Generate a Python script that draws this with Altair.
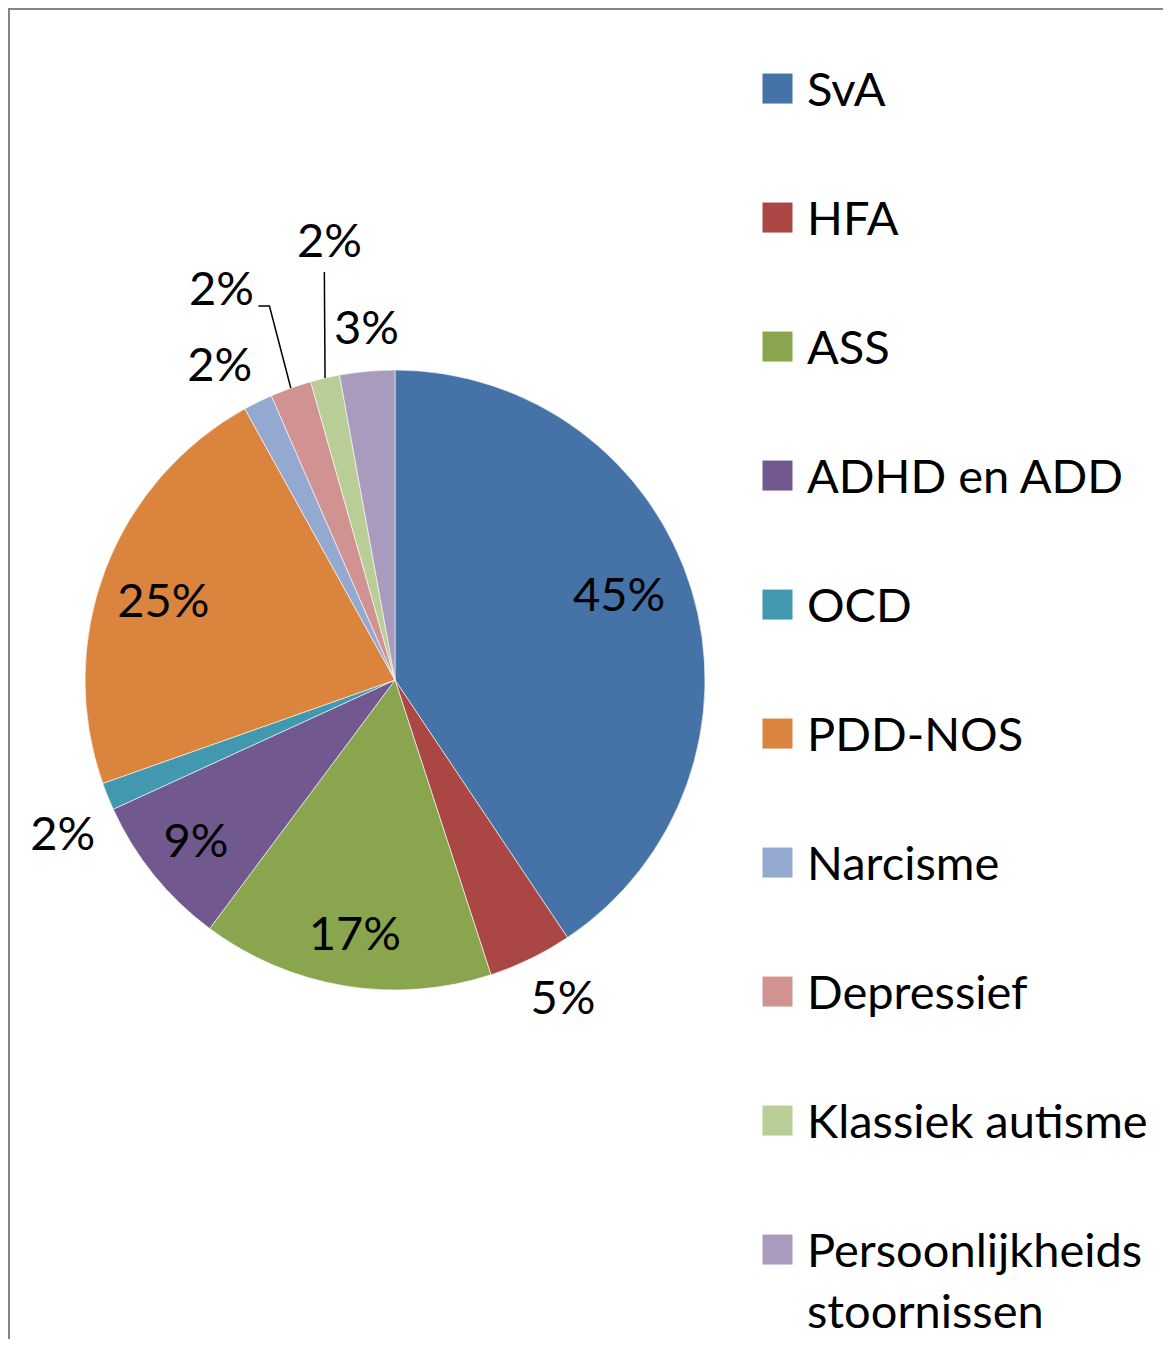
import math
import altair as alt
import pandas as pd

# ---- data ----
categories = ["SvA", "HFA", "ASS", "ADHD en ADD", "OCD", "PDD-NOS",
              "Narcisme", "Depressief", "Klassiek autisme",
              "Persoonlijkheids stoornissen"]
values = [45.4, 4.9, 17.0, 8.9, 1.6, 25.0, 1.7, 2.4, 1.7, 3.2]
labels = ["45%", "5%", "17%", "9%", "2%", "25%", "2%", "2%", "2%", "3%"]
colors = ["#4572A7", "#AA4643", "#89A54E", "#71588F", "#4198AF",
          "#DB843D", "#93A9CF", "#D19392", "#B9CD96", "#A99BBD"]

# ---- label placement (style) ----
label_radius = [239, 361, 259, 257, 367, 244, 359, 426, 442, 351]
label_shift = [-3.4, -1.8, -0.4, -0.3, -3.1, -2.4, -3.0, -4.4, 4.5, 0.5]
leader_offsets = {"Depressief": [(37, 15), (48, 15)],
                  "Klassiek autisme": [(-5, 29)]}

W, H = 1155, 1331
CX, CY, R = 387, 672, 310
FONT = "Lato"
FS = 47

total = sum(values)
mids = []
cum = 0.0
for v in values:
    mids.append((cum + v / 2) / total * 360.0)
    cum += v


def polar(angle_deg, r):
    a = math.radians(angle_deg)
    return CX + r * math.sin(a), CY - r * math.cos(a)


pie_df = pd.DataFrame({"cat": categories, "val": values,
                       "idx": list(range(len(categories)))})

lab_rows = []
for i, (c, l) in enumerate(zip(categories, labels)):
    x, y = polar(mids[i] + label_shift[i], label_radius[i])
    lab_rows.append({"cat": c, "lab": l, "lx": x, "ly": y})
lab_df = pd.DataFrame(lab_rows)

line_rows = []
for c, offs in leader_offsets.items():
    i = categories.index(c)
    lx, ly = lab_df.loc[i, "lx"], lab_df.loc[i, "ly"]
    pts = [(lx + dx, ly + dy) for dx, dy in offs] + [polar(mids[i], R)]
    for k, (x, y) in enumerate(pts):
        line_rows.append({"line": c, "pt": k, "x": x, "y": y})
line_df = pd.DataFrame(line_rows)

legend = alt.Legend(
    title=None, orient="none", legendX=746, legendY=74, padding=0,
    symbolType="M-1,-2.13H1V-0.13H-1Z", symbolSize=900, symbolStrokeWidth=0,
    labelFont=FONT, labelFontSize=FS, labelColor="black",
    labelBaseline="alphabetic", labelOffset=6, labelLimit=0,
    rowPadding=81,
    labelExpr="datum.label == 'Persoonlijkheids stoornissen' ? "
              "['Persoonlijkheids', 'stoornissen'] : datum.label",
)

arc = alt.Chart(pie_df).mark_arc(outerRadius=R, stroke="white", strokeWidth=0.6).encode(
    theta=alt.Theta("val:Q", stack=True),
    order=alt.Order("idx:Q", sort="ascending"),
    color=alt.Color("cat:N", sort=categories,
                    scale=alt.Scale(domain=categories, range=colors),
                    legend=legend),
    x=alt.value(CX), y=alt.value(CY),
)

text = alt.Chart(lab_df).mark_text(font=FONT, fontSize=FS, color="black",
                                   align="center", baseline="middle").encode(
    x=alt.X("lx:Q", scale=None, axis=None),
    y=alt.Y("ly:Q", scale=None, axis=None),
    text="lab:N",
)

leaders = alt.Chart(line_df).mark_line(color="black", strokeWidth=1.5).encode(
    x=alt.X("x:Q", scale=None, axis=None),
    y=alt.Y("y:Q", scale=None, axis=None),
    detail="line:N",
    order="pt:Q",
)

frame_df = pd.DataFrame({"k": [0]})
left_border = alt.Chart(frame_df).mark_rule(color="#868686", strokeWidth=2).encode(
    x=alt.value(1), y=alt.value(0), y2=alt.value(H))
top_border = alt.Chart(frame_df).mark_rule(color="#868686", strokeWidth=2).encode(
    y=alt.value(1), x=alt.value(0), x2=alt.value(W))

chart = alt.layer(arc, leaders, text, left_border, top_border).properties(
    width=W, height=H, padding=0,
    autosize=alt.AutoSizeParams(type="none"),
).configure_view(stroke=None).configure(
    style={"guide-label": {"lineHeight": 61}}
)

chart.save("out.html", embed_options={"renderer": "svg", "actions": False})
